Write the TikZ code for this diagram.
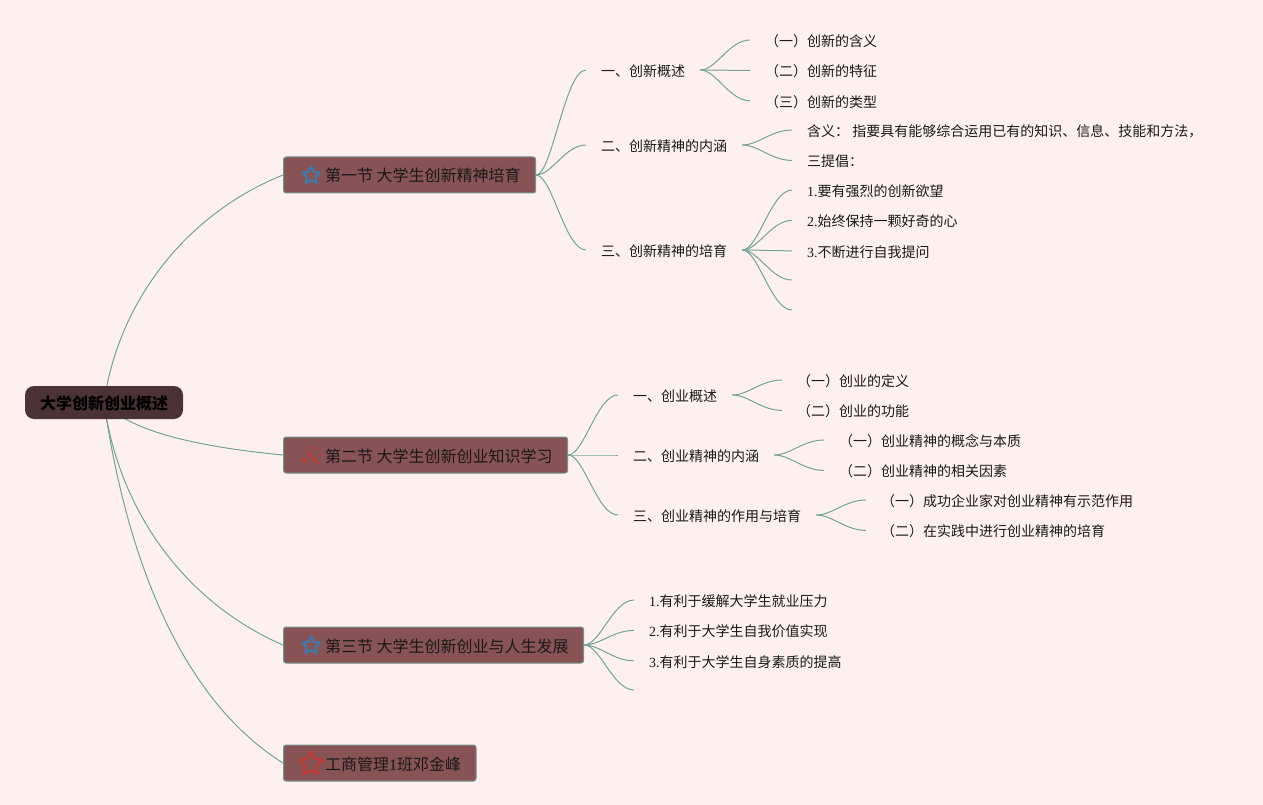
\documentclass[tikz,border=0pt]{standalone}
\usepackage{fontspec}
\usepackage{xcolor}
\setmainfont{Noto Sans CJK SC}
\newfontfamily\digitfont{Liberation Serif}
\usetikzlibrary{positioning, calc, backgrounds, shapes.geometric}

\definecolor{pagebg}{HTML}{FFF0F0}
\definecolor{rootfill}{HTML}{4B3236}
\definecolor{secfill}{HTML}{885355}
\definecolor{secline}{HTML}{6F958C}
\definecolor{linkcol}{HTML}{6FA595}
\definecolor{iconblue}{HTML}{3A7AB0}
\definecolor{iconred}{HTML}{C4392F}

\begin{document}
\begin{tikzpicture}[
    x=1pt, y=-1pt,
    every node/.style={font=\fontsize{14}{14}\selectfont, text=black!90},
    root/.style={
        fill=rootfill, rounded corners=9pt, anchor=center,
        minimum width=158pt, minimum height=33pt, inner sep=0pt,
        text height=14pt, text depth=0pt,
        font=\fontsize{16}{16}\selectfont\bfseries, text=black
    },
    section/.style={
        draw=secline, fill=secfill, line width=1pt, rounded corners=2.5pt,
        anchor=west, inner xsep=15pt, inner ysep=0pt,
        minimum height=36pt, text height=14pt, text depth=0pt,
        font=\fontsize{16}{16}\selectfont,
        execute at begin node=\hspace*{26.5pt}
    },
    topic/.style={
        anchor=west, inner xsep=15pt, inner ysep=0pt,
        minimum height=30pt, text height=13.2pt, text depth=0.5pt
    },
    under/.style={below=0pt of #1.south west, anchor=north west},
    staricon/.style={
        star, star points=5, star point ratio=2,
        inner sep=0pt, line width=2pt, line join=round
    },
    link/.style={draw=linkcol, line width=1pt},
    fork/.style={
        link,
        to path={.. controls ($(\tikztostart)!0.32!(\tikztotarget|-\tikztostart)$)
            and ($(\tikztostart|-\tikztotarget)!0.58!(\tikztotarget)$) .. (\tikztotarget)}
    },
]
\useasboundingbox (0,0) rectangle (1263,805);

\node[root] (root) at (104,402.5) {大学创新创业概述};

% --- Section 1 ---
\node[section] (sec1) at (283,175) {第一节 大学生创新精神培育};
\node[staricon, draw=iconblue, minimum size=18.5pt] (star1) at (311,175.5) {};
\node[topic] (a1) at (586,70) {一、创新概述};
\node[topic] (a11) at (750,40) {（一）创新的含义};
\node[topic, under=a11] (a12) {（二）创新的特征};
\node[topic, under=a12] (a13) {（三）创新的类型};
\node[topic] (a2) at (586,145) {二、创新精神的内涵};
\node[topic] (a21) at (792,130) {含义： 指要具有能够综合运用已有的知识、信息、技能和方法，};
\node[topic, under=a21] (a22) {三提倡：};
\node[topic] (a3) at (586,250) {三、创新精神的培育};
\node[topic] (a31) at (792,190) {{\digitfont 1.}要有强烈的创新欲望};
\node[topic, under=a31] (a32) {{\digitfont 2.}始终保持一颗好奇的心};
\node[topic, under=a32] (a33) {{\digitfont 3.}不断进行自我提问};
\coordinate (a34) at (792,280);
\coordinate (a35) at (792,310);

% --- Section 2 ---
\node[section] (sec2) at (283,455) {第二节 大学生创新创业知识学习};
\fill[iconred] (306.5,452.5) -- (308,451.5) -- (318.5,462.5) -- (317,464) -- cycle;
\fill[iconred] (314,448) circle (1.8);
\fill[iconred] (304,460.5) circle (2.4);
\fill[iconred!70!secfill] (320,455) circle (1.2);
\node[topic] (b1) at (618,395) {一、创业概述};
\node[topic] (b11) at (782,380) {（一）创业的定义};
\node[topic, under=b11] (b12) {（二）创业的功能};
\node[topic] (b2) at (618,455) {二、创业精神的内涵};
\node[topic] (b21) at (824,440) {（一）创业精神的概念与本质};
\node[topic, under=b21] (b22) {（二）创业精神的相关因素};
\node[topic] (b3) at (618,515) {三、创业精神的作用与培育};
\node[topic] (b31) at (866,500) {（一）成功企业家对创业精神有示范作用};
\node[topic, under=b31] (b32) {（二）在实践中进行创业精神的培育};

% --- Section 3 ---
\node[section] (sec3) at (283,645) {第三节 大学生创新创业与人生发展};
\node[staricon, draw=iconblue, minimum size=18.5pt] (star3) at (311,645.5) {};
\node[topic] (c1) at (634,600) {{\digitfont 1.}有利于缓解大学生就业压力};
\node[topic, under=c1] (c2) {{\digitfont 2.}有利于大学生自我价值实现};
\node[topic, under=c2] (c3) {{\digitfont 3.}有利于大学生自身素质的提高};
\coordinate (c4) at (634,690);

% --- Section 4 ---
\node[section] (sec4) at (283,763) {工商管理{\digitfont 1}班邓金峰};
\node[staricon, draw=iconred, minimum size=25pt] (star4) at (310.5,764) {};

\begin{scope}[on background layer]
\fill[pagebg] (0,0) rectangle (1263,805);

% --- Links from the root ---
\draw[link] (root.center) .. controls (118.6,300.4) and (186.9,213.6) .. (sec1.west);
\draw[link] (root.center) .. controls (130,432) and (200,447) .. (sec2.west);
\draw[link] (root.center) .. controls (118.9,512) and (186.1,603) .. (sec3.west);
\draw[link] (root.center) .. controls (124,540) and (173,694) .. (sec4.west);

% --- Links of section 1 ---
\draw[fork] (sec1.east) to (a1.west);
\draw[fork] (sec1.east) to (a2.west);
\draw[fork] (sec1.east) to (a3.west);
\draw[fork] (a1.east) to (a11.west);
\draw[fork] (a1.east) to (a12.west);
\draw[fork] (a1.east) to (a13.west);
\draw[fork] (a2.east) to (a21.west);
\draw[fork] (a2.east) to (a22.west);
\draw[fork] (a3.east) to (a31.west);
\draw[fork] (a3.east) to (a32.west);
\draw[fork] (a3.east) to (a33.west);
\draw[fork] (a3.east) to (a34);
\draw[fork] (a3.east) to (a35);

% --- Links of section 2 ---
\draw[fork] (sec2.east) to (b1.west);
\draw[fork] (sec2.east) to (b2.west);
\draw[fork] (sec2.east) to (b3.west);
\draw[fork] (b1.east) to (b11.west);
\draw[fork] (b1.east) to (b12.west);
\draw[fork] (b2.east) to (b21.west);
\draw[fork] (b2.east) to (b22.west);
\draw[fork] (b3.east) to (b31.west);
\draw[fork] (b3.east) to (b32.west);

% --- Links of section 3 ---
\draw[fork] (sec3.east) to (c1.west);
\draw[fork] (sec3.east) to (c2.west);
\draw[fork] (sec3.east) to (c3.west);
\draw[fork] (sec3.east) to (c4);
\end{scope}

\end{tikzpicture}
\end{document}
